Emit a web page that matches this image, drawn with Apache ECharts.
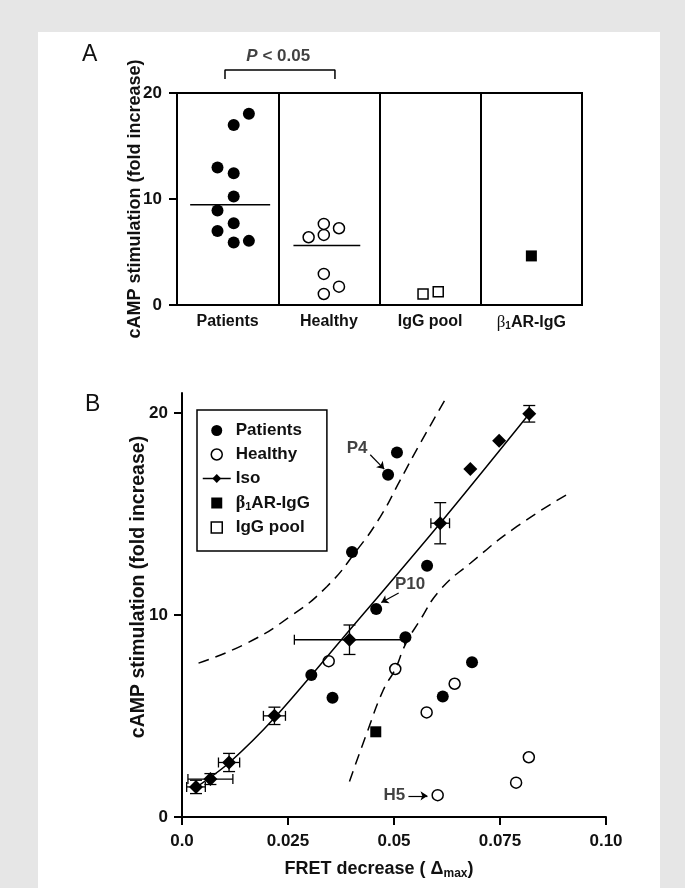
<!DOCTYPE html>
<html lang="en">
<head>
<meta charset="UTF-8" />
<title>cAMP stimulation and FRET decrease</title>
<script src="https://cdn.jsdelivr.net/npm/echarts@6/dist/echarts.min.js"></script>
<style>
  html, body { margin: 0; padding: 0; background: #e6e6e6; }
  #main { width: 685px; height: 888px; }
</style>
</head>
<body>
<div id="main"></div>
<script>
// ---------- panel A ----------
var groupsA = ["Patients", "Healthy", "IgG pool", "β1AR-IgG"];
var yTicks = [0, 10, 20];
// values and their offset inside the group box (0..1)
var patientsA = [18.05, 16.98, 12.98, 12.44, 10.24, 8.91, 7.72, 6.99, 5.89, 6.05];
var patientsAOff = [0.71, 0.56, 0.40, 0.56, 0.56, 0.40, 0.56, 0.40, 0.56, 0.71];
var healthyA = [6.39, 6.61, 7.65, 7.24, 2.93, 1.73, 1.04];
var healthyAOff = [0.30, 0.45, 0.45, 0.60, 0.45, 0.60, 0.45];
var igPoolA = [1.04, 1.26];
var igPoolAOff = [0.43, 0.58];
var b1arA = [4.63];
var b1arAOff = [0.50];
var medianA = [9.45, 5.61];
var medianAFrom = [0.13, 1.15];
var medianATo = [0.92, 1.81];
var bracketX = [0.474, 1.56];
var bracketY = [21.32, 22.17];
var pTextPos = [1.0, 23.5];

// ---------- panel B ----------
var xTickLabelsB = ["0.0", "0.025", "0.05", "0.075", "0.10"];
var isoX = [0.0033, 0.0067, 0.0111, 0.0218, 0.0395, 0.0609, 0.0680, 0.0748, 0.0819];
var isoY = [1.49, 1.88, 2.70, 5.01, 8.78, 14.55, 17.24, 18.64, 19.97];
var isoXErr = [0.0022, 0.0053, 0.0025, 0.0026, 0.0130, 0.0022, 0, 0, 0];
var isoYErr = [0.33, 0.27, 0.45, 0.43, 0.73, 1.02, 0, 0, 0.41];
var patientsBX = [0.0305, 0.0355, 0.0458, 0.0527, 0.0615, 0.0507, 0.0486, 0.0401, 0.0578, 0.0684];
var patientsBY = [7.03, 5.91, 10.30, 8.90, 5.97, 18.05, 16.95, 13.12, 12.44, 7.67];
var healthyBX = [0.0346, 0.0503, 0.0643, 0.0577, 0.0818, 0.0788, 0.0603];
var healthyBY = [7.72, 7.33, 6.60, 5.18, 2.96, 1.70, 1.08];
var b1arBX = [0.0457];
var b1arBY = [4.22];
var fitX = [0.0032, 0.0112, 0.0220, 0.0381, 0.0609, 0.0819];
var fitY = [1.45, 2.70, 4.95, 8.90, 14.55, 19.97];
var bandUpX = [0.0039, 0.0153, 0.0255, 0.0342, 0.0413, 0.0468, 0.0515, 0.0562, 0.0627];
var bandUpY = [7.62, 8.61, 9.93, 11.42, 13.23, 14.88, 16.70, 18.51, 20.90];
var bandLoX = [0.0395, 0.0436, 0.0475, 0.0503, 0.0527, 0.0560, 0.0609, 0.0680, 0.0790, 0.0920];
var bandLoY = [1.76, 4.16, 6.30, 7.33, 8.55, 9.70, 11.25, 12.57, 14.39, 16.12];
var noteText = ["P4", "P10", "H5"];
var noteX = [0.0413, 0.0538, 0.0501];
var noteY = [18.25, 11.50, 1.06];
var arrowFromX = [0.0444, 0.0511, 0.0534];
var arrowFromY = [17.94, 11.09, 1.05];
var arrowToX = [0.0477, 0.0470, 0.0579];
var arrowToY = [17.23, 10.62, 1.05];

var FONT = "'Liberation Sans', Arial, sans-serif";
var INK = "#111";
var SQUARE = "path://M0,0L10,0L10,10L0,10Z";

function zip(xs, ys) {
  return xs.map(function (x, i) { return [x, ys[i]]; });
}
function inGroup(g, offs, vals) {
  return vals.map(function (v, i) { return [g + offs[i], v]; });
}
function richLabel(v) {
  if (v === "β1AR-IgG") return "{g|β}{s|1}{n|AR-IgG}";
  return "{n|" + v + "}";
}
function richSet(size) {
  return {
    n: { fontFamily: FONT, fontWeight: "bold", fontSize: size, color: INK },
    g: { fontFamily: "'Liberation Serif', serif", fontSize: size + 1, color: INK },
    s: { fontFamily: FONT, fontWeight: "bold", fontSize: Math.round(size * 0.65), color: INK, padding: [7, 0, 0, 0] }
  };
}

function renderErrorBar(params, api) {
  var x = api.value(0), y = api.value(1), ex = api.value(2), ey = api.value(3);
  var st = { stroke: "#000", lineWidth: 1.3 };
  var kids = [];
  function seg(a, b) {
    kids.push({ type: "line", shape: { x1: a[0], y1: a[1], x2: b[0], y2: b[1] }, style: st });
  }
  if (ex > 0) {
    var l = api.coord([x - ex, y]), r = api.coord([x + ex, y]);
    seg(l, r);
    seg([l[0], l[1] - 5], [l[0], l[1] + 5]);
    seg([r[0], r[1] - 5], [r[0], r[1] + 5]);
  }
  if (ey > 0) {
    var b = api.coord([x, y - ey]), t = api.coord([x, y + ey]);
    seg(b, t);
    seg([b[0] - 6, b[1]], [b[0] + 6, b[1]]);
    seg([t[0] - 6, t[1]], [t[0] + 6, t[1]]);
  }
  return { type: "group", children: kids };
}

var chart = echarts.init(document.getElementById("main"));

var axisLineBlack = { show: true, lineStyle: { color: "#000", width: 2 } };
var tickBlack = { show: true, length: 8, lineStyle: { color: "#000", width: 2 } };
var tickLabel = { color: INK, fontFamily: FONT, fontWeight: "bold", fontSize: 17 };
var black = { color: "#000", opacity: 1 };
var hollow = { color: "#fff", borderColor: "#000", borderWidth: 1.5, opacity: 1 };

var medianSeries = medianA.map(function (m, i) {
  return {
    type: "line", xAxisIndex: 1, yAxisIndex: 0, symbol: "none",
    lineStyle: { color: "#000", width: 1.5 },
    data: [[medianAFrom[i], m], [medianATo[i], m]]
  };
});

var option = {
  animation: false,
  backgroundColor: "#e6e6e6",
  graphic: [
    { type: "rect", z: -10, shape: { x: 38, y: 32, width: 622, height: 856 }, style: { fill: "#fff" } }
  ],
  title: [
    { text: "A", left: 82, top: 43, padding: 0,
      textStyle: { fontFamily: FONT, fontWeight: "normal", fontSize: 23, color: INK } },
    { text: "B", left: 85, top: 393, padding: 0,
      textStyle: { fontFamily: FONT, fontWeight: "normal", fontSize: 23, color: INK } }
  ],
  legend: {
    data: [
      { name: "Patients" },
      { name: "Healthy", itemStyle: hollow },
      { name: "Iso", lineStyle: { color: "#000", width: 1.5, opacity: 1 } },
      { name: "β1AR-IgG", icon: SQUARE },
      { name: "IgG pool", icon: SQUARE, itemStyle: hollow }
    ],
    orient: "vertical",
    left: 197,
    top: 410,
    padding: [12, 17, 15, 5],
    itemGap: 7,
    itemWidth: 28,
    itemHeight: 11,
    selectedMode: false,
    borderColor: "#000",
    borderWidth: 1.5,
    backgroundColor: "#fff",
    formatter: richLabel,
    textStyle: { fontFamily: FONT, fontWeight: "bold", fontSize: 17, color: INK, rich: richSet(17) }
  },
  grid: [
    { left: 177, top: 93, width: 405, height: 212, show: true, borderColor: "#000", borderWidth: 2 },
    { left: 182, top: 393, width: 424, height: 424 }
  ],
  xAxis: [
    {
      type: "category", gridIndex: 0, data: groupsA, boundaryGap: true,
      axisLine: axisLineBlack, axisTick: { show: false },
      splitLine: { show: true, interval: 0, lineStyle: { color: "#000", width: 2 } },
      axisLabel: { margin: 9, interval: 0, formatter: richLabel, rich: richSet(16) }
    },
    { type: "value", gridIndex: 0, min: 0, max: 4, show: false },
    {
      type: "value", gridIndex: 1, min: 0, max: 0.1, interval: 0.025,
      axisLine: axisLineBlack, axisTick: tickBlack, splitLine: { show: false },
      axisLabel: Object.assign({ margin: 16, formatter: function (v) {
        return xTickLabelsB[Math.round(v / 0.025)];
      } }, tickLabel),
      name: "{n|FRET decrease ( Δ}{s|max}{n|)}",
      nameLocation: "middle", nameGap: 41, nameMoveOverlap: false,
      nameTextStyle: {
        padding: [0, 30, 0, 0],
        rich: {
          n: { fontFamily: FONT, fontWeight: "bold", fontSize: 18, color: INK },
          s: { fontFamily: FONT, fontWeight: "bold", fontSize: 12, color: INK, padding: [10, 0, 0, 0] }
        }
      }
    }
  ],
  yAxis: [
    {
      type: "value", gridIndex: 0, min: 0, max: 20, interval: 10,
      axisLine: axisLineBlack, axisTick: tickBlack, splitLine: { show: false },
      axisLabel: Object.assign({ margin: 15 }, tickLabel),
      name: "cAMP stimulation (fold increase)", nameLocation: "middle", nameGap: 33, nameMoveOverlap: false,
      nameTextStyle: { fontFamily: FONT, fontWeight: "bold", fontSize: 18, color: INK }
    },
    {
      type: "value", gridIndex: 1, min: 0, max: 21, interval: 10,
      axisLine: axisLineBlack,
      axisTick: Object.assign({ customValues: yTicks }, tickBlack),
      splitLine: { show: false },
      axisLabel: Object.assign({ margin: 14, customValues: yTicks, formatter: function (v) {
        return v % 10 === 0 ? String(v) : "";
      } }, tickLabel),
      name: "cAMP stimulation (fold increase)", nameLocation: "middle", nameGap: 33, nameMoveOverlap: false,
      nameTextStyle: { fontFamily: FONT, fontWeight: "bold", fontSize: 19.5, color: INK, padding: [0, 0, 0, 36] }
    }
  ],
  series: [
    // ----- panel A -----
    { name: "A-Patients", type: "scatter", xAxisIndex: 1, yAxisIndex: 0, symbol: "circle", symbolSize: 12,
      itemStyle: black, data: inGroup(0, patientsAOff, patientsA) },
    { name: "A-Healthy", type: "scatter", xAxisIndex: 1, yAxisIndex: 0, symbol: "circle", symbolSize: 11,
      itemStyle: hollow, data: inGroup(1, healthyAOff, healthyA) },
    { name: "A-IgG pool", type: "scatter", xAxisIndex: 1, yAxisIndex: 0, symbol: "rect", symbolSize: 10,
      itemStyle: hollow, data: inGroup(2, igPoolAOff, igPoolA) },
    { name: "A-b1AR", type: "scatter", xAxisIndex: 1, yAxisIndex: 0, symbol: "rect", symbolSize: 11,
      itemStyle: black, data: inGroup(3, b1arAOff, b1arA) },
    medianSeries[0],
    medianSeries[1],
    { type: "line", xAxisIndex: 1, yAxisIndex: 0, symbol: "none", clip: false,
      lineStyle: { color: "#000", width: 1.5 },
      data: [[bracketX[0], bracketY[0]], [bracketX[0], bracketY[1]], [bracketX[1], bracketY[1]], [bracketX[1], bracketY[0]]] },
    { type: "scatter", xAxisIndex: 1, yAxisIndex: 0, symbolSize: 0, clip: false,
      data: [pTextPos],
      label: { show: true, position: "inside", formatter: "{i|P}{n| < 0.05}",
        rich: {
          i: { fontFamily: FONT, fontWeight: "bold", fontStyle: "italic", fontSize: 17, color: INK },
          n: { fontFamily: FONT, fontWeight: "bold", fontSize: 17, color: INK }
        } } },

    // ----- panel B -----
    { type: "custom", xAxisIndex: 2, yAxisIndex: 1, renderItem: renderErrorBar, encode: { x: 0, y: 1 },
      data: isoX.map(function (x, i) { return [x, isoY[i], isoXErr[i], isoYErr[i]]; }) },
    { type: "line", xAxisIndex: 2, yAxisIndex: 1, symbol: "none", smooth: 0.3,
      lineStyle: { color: "#000", width: 1.5 }, data: zip(fitX, fitY),
      markLine: {
        silent: true, symbol: ["none", "arrow"], symbolSize: 7,
        lineStyle: { color: "#000", width: 1.2, type: "solid" }, label: { show: false },
        data: arrowFromX.map(function (x, i) {
          return [{ coord: [x, arrowFromY[i]] }, { coord: [arrowToX[i], arrowToY[i]] }];
        })
      } },
    { type: "line", xAxisIndex: 2, yAxisIndex: 1, symbol: "none", smooth: true,
      lineStyle: { color: "#000", width: 1.5, type: [11, 7] }, data: zip(bandUpX, bandUpY) },
    { type: "line", xAxisIndex: 2, yAxisIndex: 1, symbol: "none", smooth: true,
      lineStyle: { color: "#000", width: 1.5, type: [11, 7] }, data: zip(bandLoX, bandLoY) },
    { name: "Patients", type: "scatter", xAxisIndex: 2, yAxisIndex: 1, symbol: "circle", symbolSize: 12,
      itemStyle: black, data: zip(patientsBX, patientsBY) },
    { name: "Healthy", type: "scatter", xAxisIndex: 2, yAxisIndex: 1, symbol: "circle", symbolSize: 11,
      itemStyle: hollow, data: zip(healthyBX, healthyBY) },
    { name: "Iso", type: "line", xAxisIndex: 2, yAxisIndex: 1, symbol: "diamond", symbolSize: 14, showAllSymbol: true,
      lineStyle: { opacity: 0 }, itemStyle: black, data: zip(isoX, isoY) },
    { name: "β1AR-IgG", type: "scatter", xAxisIndex: 2, yAxisIndex: 1, symbol: "rect", symbolSize: 11,
      itemStyle: black, data: zip(b1arBX, b1arBY) },
    { name: "IgG pool", type: "scatter", xAxisIndex: 2, yAxisIndex: 1, symbol: "rect", symbolSize: 10,
      itemStyle: hollow, data: [] },
    { type: "scatter", xAxisIndex: 2, yAxisIndex: 1, symbolSize: 0,
      data: noteX.map(function (x, i) { return [x, noteY[i], noteText[i]]; }),
      label: { show: true, position: "inside", formatter: function (p) { return p.value[2]; },
        fontFamily: FONT, fontWeight: "bold", fontSize: 17, color: INK } }
  ]
};

chart.setOption(option);
</script>
</body>
</html>
